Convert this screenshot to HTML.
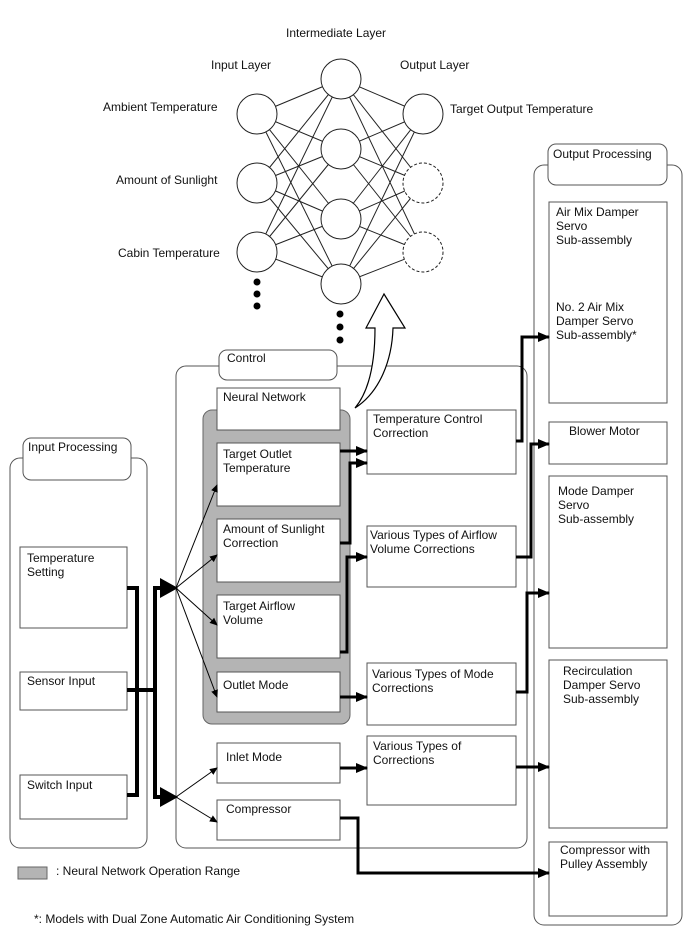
<!DOCTYPE html>
<html><head><meta charset="utf-8"><style>
html,body{margin:0;padding:0;background:#fff;}
svg{display:block;}
text{font-family:"Liberation Sans",sans-serif;font-size:12px;fill:#111;}
</style></head><body>
<svg width="688" height="949" viewBox="0 0 688 949" xmlns="http://www.w3.org/2000/svg">
<defs>
<marker id="ah" markerWidth="8" markerHeight="8" refX="7" refY="4" orient="auto" markerUnits="userSpaceOnUse"><path d="M0,0.5 L8,4 L0,7.5 Z" fill="#000"/></marker>
<marker id="tah" markerWidth="12" markerHeight="12" refX="11" refY="6" orient="auto" markerUnits="userSpaceOnUse"><path d="M0,1 L12,6 L0,11 Z" fill="#000"/></marker>
</defs>
<g stroke="#222" stroke-width="1" fill="none">
<line x1="257" y1="114" x2="341" y2="79"/><line x1="257" y1="114" x2="341" y2="149"/><line x1="257" y1="114" x2="341" y2="219"/><line x1="257" y1="114" x2="341" y2="284"/>
<line x1="257" y1="183" x2="341" y2="79"/><line x1="257" y1="183" x2="341" y2="149"/><line x1="257" y1="183" x2="341" y2="219"/><line x1="257" y1="183" x2="341" y2="284"/>
<line x1="257" y1="252" x2="341" y2="79"/><line x1="257" y1="252" x2="341" y2="149"/><line x1="257" y1="252" x2="341" y2="219"/><line x1="257" y1="252" x2="341" y2="284"/>
<line x1="341" y1="79" x2="423" y2="114"/><line x1="341" y1="79" x2="423" y2="183"/><line x1="341" y1="79" x2="423" y2="252"/>
<line x1="341" y1="149" x2="423" y2="114"/><line x1="341" y1="149" x2="423" y2="183"/><line x1="341" y1="149" x2="423" y2="252"/>
<line x1="341" y1="219" x2="423" y2="114"/><line x1="341" y1="219" x2="423" y2="183"/><line x1="341" y1="219" x2="423" y2="252"/>
<line x1="341" y1="284" x2="423" y2="114"/><line x1="341" y1="284" x2="423" y2="183"/><line x1="341" y1="284" x2="423" y2="252"/>
<g fill="#fff">
<circle cx="257" cy="114" r="20"/><circle cx="257" cy="183" r="20"/><circle cx="257" cy="252" r="20"/>
<circle cx="341" cy="79" r="20"/><circle cx="341" cy="149" r="20"/><circle cx="341" cy="219" r="20"/><circle cx="341" cy="284" r="20"/>
<circle cx="423" cy="114" r="20"/>
<circle cx="423" cy="183" r="20" stroke-dasharray="3,2"/><circle cx="423" cy="252" r="20" stroke-dasharray="3,2"/>
</g>
</g>
<g fill="#000">
<circle cx="257" cy="282" r="3.5"/><circle cx="257" cy="294" r="3.5"/><circle cx="257" cy="306" r="3.5"/>
<circle cx="340" cy="314" r="3.5"/><circle cx="340" cy="327" r="3.5"/><circle cx="340" cy="340" r="3.5"/>
</g>
<text x="286" y="37">Intermediate Layer</text>
<text x="211" y="69">Input Layer</text>
<text x="400" y="69">Output Layer</text>
<text x="103" y="111">Ambient Temperature</text>
<text x="116" y="184">Amount of Sunlight</text>
<text x="118" y="257">Cabin Temperature</text>
<text x="450" y="113">Target Output Temperature</text>

<g stroke="#555" stroke-width="1" fill="#fff">
<rect x="10" y="458" width="137" height="390" rx="10"/>
<rect x="23" y="438" width="108" height="42" rx="8"/>
<rect x="176" y="366" width="351" height="482" rx="10"/>
<rect x="219" y="350" width="118" height="30" rx="8"/>
<rect x="534" y="165" width="148" height="760" rx="10"/>
<rect x="548" y="144" width="119" height="41" rx="8"/>
</g>
<rect x="203" y="410" width="147" height="314" rx="9" fill="#b4b4b4" stroke="#666"/>
<path d="M384,294 L405,328 L393,328 C392,360 380,392 355,408 C370,390 375,360 375,328 L366,328 Z" fill="#fff" stroke="#000" stroke-width="1.2"/>
<g stroke="#555" stroke-width="1" fill="#fff">
<rect x="20" y="547" width="107" height="81"/>
<rect x="20" y="672" width="107" height="38"/>
<rect x="20" y="775" width="107" height="44"/>
<rect x="217" y="388" width="123" height="42"/>
<rect x="217" y="443" width="123" height="63"/>
<rect x="217" y="519" width="123" height="63"/>
<rect x="217" y="595" width="123" height="63"/>
<rect x="217" y="672" width="123" height="40"/>
<rect x="217" y="743" width="123" height="40"/>
<rect x="217" y="800" width="123" height="40"/>
<rect x="367" y="410" width="149" height="64"/>
<rect x="367" y="526" width="149" height="61"/>
<rect x="367" y="663" width="149" height="62"/>
<rect x="367" y="736" width="149" height="69"/>
<rect x="549" y="202" width="118" height="201"/>
<rect x="549" y="422" width="118" height="42"/>
<rect x="549" y="476" width="118" height="172"/>
<rect x="549" y="660" width="118" height="168"/>
<rect x="549" y="842" width="118" height="74"/>
</g>
<rect x="18" y="867" width="29" height="12" fill="#b4b4b4" stroke="#666"/>

<g stroke="#000" stroke-width="1" marker-end="url(#ah)">
<line x1="176" y1="588" x2="217" y2="485"/>
<line x1="176" y1="588" x2="217" y2="555"/>
<line x1="176" y1="588" x2="217" y2="625"/>
<line x1="176" y1="588" x2="217" y2="697"/>
<line x1="176" y1="797" x2="217" y2="768"/>
<line x1="176" y1="797" x2="217" y2="822"/>
</g>
<g stroke="#000" stroke-width="4" fill="none">
<polyline points="127,588 137,588 137,795 127,795"/>
<line x1="127" y1="690" x2="155" y2="690"/>
<polyline points="165,588 155,588 155,797 165,797"/>
</g>
<path d="M160,578 L178,588 L160,598 Z" fill="#000"/>
<path d="M160,787 L178,797 L160,807 Z" fill="#000"/>
<g stroke="#000" stroke-width="3" fill="none" marker-end="url(#tah)">
<polyline points="340,451 367,451"/>
<polyline points="340,543 350,543 350,463 367,463"/>
<polyline points="340,652 347,652 347,557 367,557"/>
<polyline points="340,697 367,697"/>
<polyline points="340,768 367,768"/>
<polyline points="340,818 358,818 358,873 549,873"/>
<polyline points="516,441 522,441 522,337 549,337"/>
<polyline points="516,557 531,557 531,444 549,444"/>
<polyline points="516,692 527,692 527,593 549,593"/>
<polyline points="516,767 549,767"/>
</g>

<text x="28" y="451">Input Processing</text>
<text x="227" y="362">Control</text>
<text x="553" y="158">Output Processing</text>
<text x="27" y="562">Temperature</text><text x="27" y="576">Setting</text>
<text x="27" y="685">Sensor Input</text>
<text x="27" y="789">Switch Input</text>
<text x="223" y="401">Neural Network</text>
<text x="223" y="458">Target Outlet</text><text x="223" y="472">Temperature</text>
<text x="223" y="533">Amount of Sunlight</text><text x="223" y="547">Correction</text>
<text x="223" y="610">Target Airflow</text><text x="223" y="624">Volume</text>
<text x="223" y="689">Outlet Mode</text>
<text x="226" y="761">Inlet Mode</text>
<text x="226" y="813">Compressor</text>
<text x="373" y="423">Temperature Control</text><text x="373" y="437">Correction</text>
<text x="370" y="539">Various Types of Airflow</text><text x="370" y="553">Volume Corrections</text>
<text x="372" y="678">Various Types of Mode</text><text x="372" y="692">Corrections</text>
<text x="373" y="750">Various Types of</text><text x="373" y="764">Corrections</text>
<text x="556" y="216">Air Mix Damper</text><text x="556" y="230">Servo</text><text x="556" y="244">Sub-assembly</text>
<text x="556" y="311">No. 2 Air Mix</text><text x="556" y="325">Damper Servo</text><text x="556" y="339">Sub-assembly*</text>
<text x="569" y="435">Blower Motor</text>
<text x="558" y="495">Mode Damper</text><text x="558" y="509">Servo</text><text x="558" y="523">Sub-assembly</text>
<text x="563" y="675">Recirculation</text><text x="563" y="689">Damper Servo</text><text x="563" y="703">Sub-assembly</text>
<text x="560" y="854">Compressor with</text><text x="560" y="868">Pulley Assembly</text>
<text x="56" y="875">: Neural Network Operation Range</text>
<text x="34" y="923">*: Models with Dual Zone Automatic Air Conditioning System</text>
</svg>
</body></html>
